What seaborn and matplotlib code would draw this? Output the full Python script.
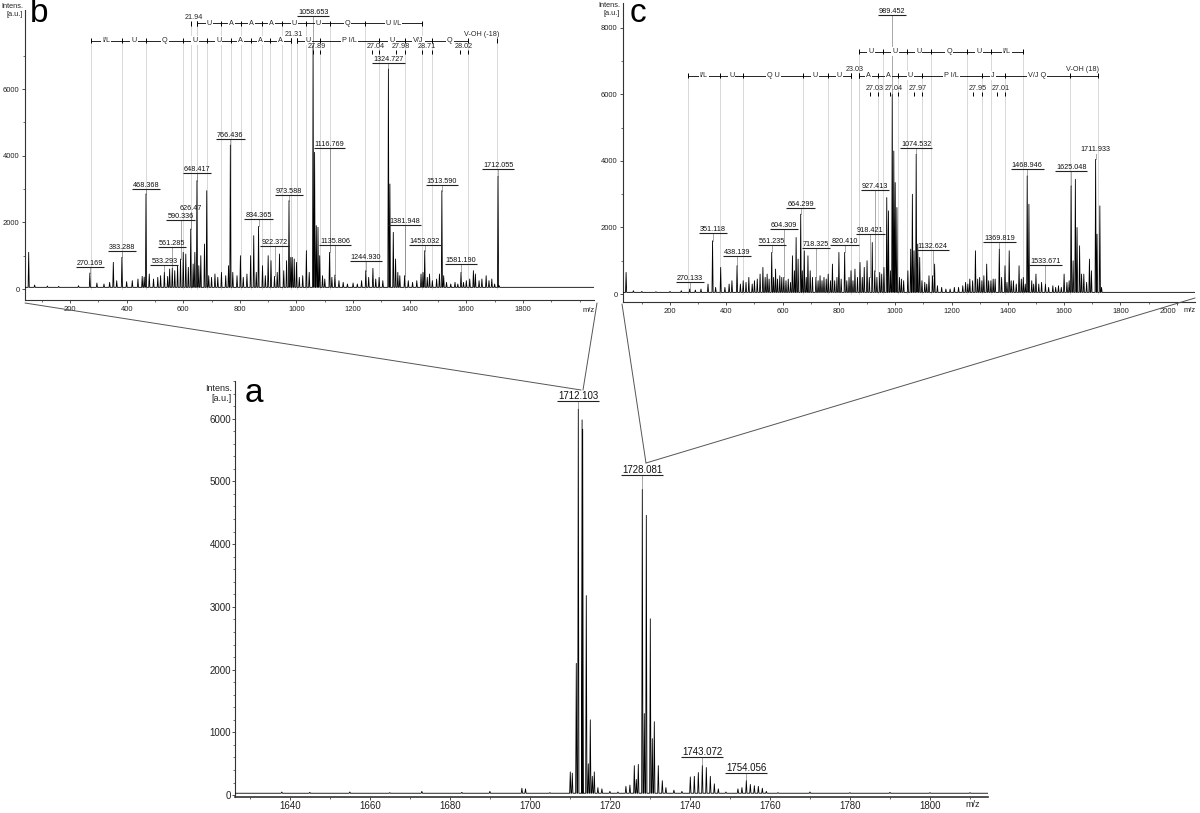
import numpy as np
import pandas as pd
import matplotlib
matplotlib.use("Agg")
import matplotlib.pyplot as plt
import seaborn as sns
from matplotlib.lines import Line2D
from matplotlib.ticker import MultipleLocator, FixedLocator

sns.set_theme(style="white")
plt.rcParams['font.family'] = ['Liberation Sans', 'DejaVu Sans']

# ---------------- data: panel a (full MS) ----------------
a_mz = [1630, 1638, 1645, 1655, 1665, 1673, 1683, 1690, 1698.0, 1698.9, 1705,
        1710.1, 1710.6, 1711.6, 1712.1, 1713.05, 1713.2, 1714.1, 1714.6, 1715.1, 1715.6, 1716.1, 1717.0, 1718.0, 1720.0, 1722.0,
        1724.0, 1725.0, 1726.1, 1726.6, 1727.1, 1728.1, 1728.6, 1729.1, 1730.1, 1730.6, 1731.1, 1732.1, 1733.1, 1734.0, 1736.0, 1738.0,
        1740.1, 1741.1, 1742.1, 1743.1, 1744.1, 1745.1, 1746.1, 1747.1, 1749.0,
        1752.0, 1753.0, 1754.1, 1755.1, 1756.1, 1757.1, 1758.1, 1759.1, 1762, 1770, 1780, 1790, 1800, 1810]
a_int = [30, 50, 45, 50, 40, 60, 45, 60, 110, 100, 40,
         370, 350, 2100, 6150, 5980, 5830, 3180, 500, 1200, 300, 370, 120, 100, 60, 50,
         140, 160, 470, 250, 490, 4870, 1300, 4460, 2810, 900, 1170, 470, 230, 120, 80, 60,
         290, 300, 360, 470, 440, 300, 180, 100, 50,
         100, 120, 230, 170, 150, 140, 110, 60, 40, 50, 40, 45, 40, 40]
a_label_text = ["1712.103", "1728.081", "1743.072", "1754.056"]
a_label_mz = [1712.103, 1728.081, 1743.072, 1754.056]
a_label_level = [6280, 5100, 600, 360]

# ---------------- data: panel b (MS/MS of 1712) ----------------
b_mz = [54, 75, 120, 160, 230, 270.169, 295, 320, 340, 353, 365, 383.288, 400, 420, 440, 455, 462, 468.368, 480, 495,
        510, 520, 533.293, 545, 552, 561.285, 570, 580, 590.336, 600, 609, 618, 626.47, 635, 641, 648.417, 655, 662,
        675, 683, 690, 700, 712, 722, 735, 750, 760, 766.436, 775, 790, 802, 812, 825, 838, 849, 858, 866, 880, 890,
        900, 910, 922.372, 932, 940, 955, 965, 973.588, 980, 985, 992, 1000, 1010, 1022, 1035, 1045, 1058.653, 1064,
        1070, 1076, 1082, 1092, 1100, 1116.769, 1125, 1135.806, 1150, 1165, 1180, 1200, 1215, 1230, 1244.930, 1255,
        1270, 1280, 1292, 1305, 1324.727, 1330, 1342, 1350, 1358, 1365, 1381.948, 1395, 1410, 1425, 1440, 1447,
        1453.032, 1462, 1470, 1480, 1495, 1505, 1513.590, 1520, 1530, 1545, 1560, 1570, 1581.190, 1590, 1600, 1612,
        1625, 1632, 1645, 1655, 1670, 1680, 1690, 1700, 1712.055, 1716]
b_int = [1100, 120, 90, 80, 100, 480, 180, 150, 200, 800, 250, 950, 220, 250, 300, 380, 360, 2850, 450, 300,
         350, 400, 500, 380, 600, 620, 550, 700, 900, 1100, 1050, 650, 1800, 750, 1100, 3250, 700, 1000,
         1350, 2950, 400, 350, 450, 350, 500, 400, 700, 4320, 500, 400, 1000, 350, 450, 1000, 1600, 500, 1880, 700, 400,
         1000, 850, 380, 500, 1050, 550, 850, 2650, 950, 950, 900, 800, 350, 400, 1150, 500, 7300, 4100,
         1900, 1850, 1000, 400, 300, 1100, 350, 420, 250, 200, 150, 180, 150, 250, 550, 350,
         620, 300, 350, 250, 6600, 3150, 1700, 900, 500, 400, 400, 250, 200, 250, 450, 500,
         1150, 350, 450, 250, 300, 450, 2950, 400, 200, 150, 200, 150, 500, 200, 250, 300,
         550, 450, 250, 300, 400, 250, 300, 150, 3380, 100]
b_label_text = ["270.169", "383.288", "468.368", "533.293", "561.285", "590.336", "626.47", "648.417", "766.436",
                "834.365", "922.372", "973.588", "1058.653", "1116.769", "1135.806", "1244.930", "1324.727",
                "1381.948", "1453.032", "1513.590", "1581.190", "1712.055"]
b_label_mz = [270.169, 383.288, 468.368, 533.293, 561.285, 590.336, 626.47, 648.417, 766.436,
              866.0, 922.372, 973.588, 1058.653, 1116.769, 1135.806, 1244.930, 1324.727,
              1381.948, 1453.032, 1513.590, 1581.190, 1712.055]
b_label_level = [660, 1130, 3000, 730, 1260, 2080, 2300, 3480, 4510,
                 2100, 1300, 2830, 8200, 4230, 1330, 850, 6770,
                 1910, 1330, 3130, 760, 3600]
b_label_ul = [True] * 6 + [False] + [True] * 15

b_low1_bounds = [273.1, 382.7, 469.3, 599.2, 683.1, 768.3, 838.7, 906.4, 980.8]
b_low1_names = ["I/L", "U", "Q", "U", "U", "A", "A", "A"]
b_low2_bounds = [1001.1, 1083.6, 1292.0, 1382.7, 1477.4, 1606.0]
b_low2_names = ["U", "P I/L", "U", "V/J", "Q"]
b_up_bounds = [649.3, 734.5, 804.9, 876.6, 949.7, 1034.9, 1118.8, 1242.0, 1444.9]
b_up_names = ["U", "A", "A", "A", "U", "U", "Q", "U I/L"]
b_gap_text = ["21.94", "21.31"]
b_gap_lo = [629.0, 980.8]
b_gap_hi = [649.3, 1001.1]
b_small_text = ["27.89", "27.04", "27.98", "28.71", "28.02"]
b_small_lo = [1059.3, 1267.7, 1351.6, 1444.9, 1578.9]
b_small_hi = [1083.6, 1292.0, 1382.7, 1477.4, 1606.0]
b_end_text = "V-OH (-18)"
b_end_mz = 1708.8

# ---------------- data: panel c (MS/MS of 1728) ----------------
c_mz = [44, 70, 100, 150, 200, 240, 270.133, 290, 310, 335, 351.118, 362, 380, 395, 410, 420, 438.139, 450, 460, 470,
        480, 492, 500, 510, 520, 530, 538, 545, 552, 561.235, 568, 575, 582, 590, 597, 604.309, 612, 620, 628, 635,
        642, 648, 655, 664.299, 670, 677, 684, 690, 698, 706, 718.325, 726, 733, 740, 747, 755, 762, 770, 777, 785,
        793, 800, 808, 820.410, 828, 836, 843, 850, 857, 866, 875, 883, 890, 900, 908, 918.421, 927.413, 935, 945,
        952, 960, 970, 976, 983, 989.452, 995, 1000, 1006, 1015, 1022, 1030, 1045, 1055, 1061, 1067, 1074.532, 1080,
        1087, 1095, 1105, 1112, 1120, 1132.624, 1140, 1150, 1165, 1180, 1195, 1210, 1225, 1240, 1250, 1258, 1265,
        1275, 1285, 1293, 1300, 1308, 1315, 1325, 1332, 1340, 1348, 1355, 1369.819, 1378, 1390, 1397, 1405, 1412,
        1420, 1430, 1440, 1448, 1455, 1462, 1468.946, 1475, 1485, 1492, 1500, 1510, 1520, 1533.671, 1545, 1560,
        1570, 1580, 1590, 1600, 1610, 1618, 1625.048, 1632, 1640, 1646, 1655, 1662, 1670, 1680, 1690, 1697,
        1711.933, 1717, 1727, 1733]
c_int = [650, 100, 80, 70, 80, 100, 150, 120, 150, 300, 1600, 200, 800, 200, 300, 400, 850, 300, 400, 350,
         500, 300, 400, 450, 600, 800, 500, 600, 450, 1250, 500, 750, 450, 550, 500, 500, 400, 450, 350, 1150,
         700, 1700, 1050, 2400, 700, 1300, 500, 1150, 700, 500, 500, 400, 550, 400, 500, 450, 600, 400, 900, 400,
         500, 1250, 450, 1250, 400, 500, 700, 400, 750, 500, 950, 500, 800, 1000, 500, 1550, 700, 500, 650,
         600, 800, 2900, 2500, 700, 6000, 4300, 3350, 2600, 500, 450, 400, 700, 1350, 3000, 1300, 4200, 1500,
         1100, 400, 350, 300, 550, 550, 900, 250, 200, 150, 150, 200, 200, 250, 350, 300, 450,
         400, 1300, 450, 500, 400, 550, 900, 400, 400, 450, 450, 1350, 500, 850, 350, 1300, 400,
         400, 300, 850, 450, 500, 300, 3550, 2700, 400, 300, 600, 300, 350, 300, 200, 250,
         200, 250, 200, 600, 350, 400, 3250, 1000, 3450, 2000, 1450, 600, 600, 350, 1050, 700,
         4050, 1800, 2650, 200]
c_label_text = ["270.133", "351.118", "438.139", "561.235", "604.309", "664.299", "718.325", "820.410", "918.421",
                "927.413", "989.452", "1074.532", "1132.624", "1369.819", "1468.946", "1533.671", "1625.048", "1711.933"]
c_label_mz = [270.133, 351.118, 438.139, 561.235, 604.309, 664.299, 718.325, 820.410, 912.0,
              927.413, 989.452, 1074.532, 1132.624, 1369.819, 1468.946, 1533.671, 1625.048, 1711.933]
c_label_level = [350, 1830, 1150, 1470, 1950, 2590, 1380, 1480, 1790,
                 3130, 8390, 4390, 1330, 1570, 3770, 880, 3700, 4250]
c_label_ul = [True] * 17 + [False]

c_low1_bounds = [263.9, 376.6, 460.8, 671.4, 759.7, 843.9]
c_low1_names = ["I/L", "U", "Q U", "U", "U"]
c_low2_bounds = [871.1, 939.0, 1011.0, 1095.2, 1307.2, 1388.7, 1619.6]
c_low2_names = ["A", "A", "U", "P I/L", "J", "V/J Q"]
c_up_bounds = [871.1, 956.7, 1040.9, 1126.5, 1255.6, 1339.8, 1452.5]
c_up_names = ["U", "U", "U", "Q", "U", "I/L"]
c_gap_text = ["23.03"]
c_gap_lo = [843.9]
c_gap_hi = [871.1]
c_small_text = ["27.03", "27.04", "27.97", "27.95", "27.01"]
c_small_lo = [911.9, 979.8, 1068.1, 1275.9, 1361.5]
c_small_hi = [939.0, 1011.0, 1095.2, 1307.2, 1388.7]
c_end_text = "V-OH (18)"
c_end_mz = 1720.2

# ---------------- layout helpers ----------------
W, H = 1200, 813
fig = plt.figure(figsize=(W / 100, H / 100), dpi=100)
fig.patch.set_facecolor('white')


def px_axes(left, top, right, bottom):
    return fig.add_axes([left / W, 1 - bottom / H, (right - left) / W, (bottom - top) / H])


def profile(mz, inten, base, hw, x0, x1):
    order = np.argsort(mz)
    xs, ys = [x0], [base]
    for i in order:
        m, h = mz[i], inten[i]
        xs += [m - hw, m, m + hw]
        ys += [base, max(h, base), base]
    xs.append(x1)
    ys.append(base)
    return pd.DataFrame({"mz": xs, "intensity": ys})


def style_axes(ax, fs, length=2.5, pad=1.5):
    for s in ["top", "right"]:
        ax.spines[s].set_visible(False)
    for s in ["left", "bottom"]:
        ax.spines[s].set_color("#333333")
        ax.spines[s].set_linewidth(0.8)
    ax.tick_params(which="major", direction="out", length=length, width=0.6, color="#333333",
                   labelsize=fs, labelcolor="#222222", pad=pad, left=True, bottom=True)
    ax.tick_params(which="minor", direction="out", length=1.5, width=0.5, color="#333333",
                   left=True, bottom=True)
    ax.set_xlabel("")
    ax.set_ylabel("")
    ax.set_facecolor("white")
    ax.grid(False)


def draw_spectrum(ax, mz, inten, base, hw, xlim):
    df = profile(mz, inten, base, hw, xlim[0], xlim[1])
    sns.lineplot(data=df, x="mz", y="intensity", ax=ax, color="black", lw=0.6,
                 sort=False, estimator=None, errorbar=None, zorder=3)


def peak_height(mz, inten, m):
    arr = np.asarray(mz)
    i = int(np.argmin(np.abs(arr - m)))
    return inten[i]


def peak_labels(ax, texts, mzs, levels, uls, mz, inten, fs):
    out = []
    for t, m, lv, ul in zip(texts, mzs, levels, uls):
        tx = ax.text(m, lv, t, ha="center", va="bottom", fontsize=fs, color="#111111", zorder=6)
        out.append((tx, m, lv, ul))
        h = peak_height(mz, inten, m)
        if lv > h:
            ax.vlines(m, h, lv, colors="#333333", linestyles=(0, (1.2, 1.2)), lw=0.6, zorder=4)
    return out


def underline(ax, items):
    fig.canvas.draw()
    r = fig.canvas.get_renderer()
    inv = ax.transData.inverted()
    for tx, m, lv, ul in items:
        if not ul:
            continue
        bb = tx.get_window_extent(renderer=r)
        (x0, _), (x1, _) = inv.transform([(bb.x0 - 1, bb.y0), (bb.x1 + 1, bb.y0)])
        ax.hlines(lv, x0, x1, colors="#222222", lw=0.8, zorder=6)


def draw_row(ax, bounds, names, level, tick_h, fs):
    ax.vlines(bounds, 0, level, colors="#d2d2d2", lw=0.6, zorder=1)
    ax.hlines(level, bounds[0], bounds[-1], colors="black", lw=0.6, zorder=5)
    ax.vlines(bounds, level - tick_h, level + tick_h, colors="black", lw=0.7, zorder=5)
    for i, n in enumerate(names):
        xm = (bounds[i] + bounds[i + 1]) / 2
        ax.text(xm, level, n, ha="center", va="center", fontsize=fs, zorder=6,
                bbox=dict(fc="white", ec="none", pad=0.8))


def draw_gap(ax, texts, los, his, level, tick_h, text_off, fs):
    for t, lo, hi in zip(texts, los, his):
        ax.vlines([lo, hi], 0, level, colors="#d2d2d2", lw=0.6, zorder=1)
        ax.vlines([lo, hi], level - tick_h, level + tick_h, colors="black", lw=0.7, zorder=5)
        ax.text((lo + hi) / 2, level + text_off, t, ha="center", va="center", fontsize=fs, zorder=6)


def draw_small(ax, texts, los, his, text_level, tick_lo, tick_hi, fs):
    for t, lo, hi in zip(texts, los, his):
        ax.vlines([lo, hi], tick_lo, tick_hi, colors="black", lw=0.7, zorder=5)
        ax.text((lo + hi) / 2, text_level, t, ha="center", va="center", fontsize=fs, zorder=6)


# ---------------- panel b ----------------
b_xlim = (41, 2051)
ax_b = px_axes(25, 10, 594, 300)
draw_spectrum(ax_b, b_mz, b_int, 50, 2.0, b_xlim)
ax_b.set_xlim(*b_xlim)
ax_b.set_ylim(-330, 8370)
ax_b.xaxis.set_major_locator(FixedLocator(list(range(200, 1801, 200))))
ax_b.xaxis.set_minor_locator(FixedLocator(list(range(100, 2001, 100))))
ax_b.yaxis.set_major_locator(FixedLocator([0, 2000, 4000, 6000]))
ax_b.yaxis.set_minor_locator(FixedLocator([1000, 3000, 5000, 7000]))
style_axes(ax_b, 5.5)
fs_s = 5.2
draw_row(ax_b, b_low1_bounds, b_low1_names, 7450, 70, fs_s)
draw_row(ax_b, b_low2_bounds, b_low2_names, 7450, 70, fs_s)
draw_row(ax_b, b_up_bounds, b_up_names, 7970, 70, fs_s)
draw_gap(ax_b, b_gap_text[:1], b_gap_lo[:1], b_gap_hi[:1], 7970, 70, 170, fs_s)
draw_gap(ax_b, b_gap_text[1:], b_gap_lo[1:], b_gap_hi[1:], 7450, 70, 170, fs_s)
draw_small(ax_b, b_small_text, b_small_lo, b_small_hi, 7270, 7060, 7170, fs_s)
ax_b.vlines(b_end_mz, 0, 7450, colors="#d2d2d2", lw=0.6, zorder=1)
ax_b.vlines(b_end_mz, 7380, 7520, colors="black", lw=0.7, zorder=5)
ax_b.text(b_end_mz - 55, 7620, b_end_text, ha="center", va="center", fontsize=fs_s, zorder=6)
b_items = peak_labels(ax_b, b_label_text, b_label_mz, b_label_level, b_label_ul, b_mz, b_int, fs_s)

# ---------------- panel c ----------------
c_xlim = (33, 2065)
ax_c = px_axes(623, 3, 1195, 302)
draw_spectrum(ax_c, c_mz, c_int, 50, 2.0, c_xlim)
ax_c.set_xlim(*c_xlim)
ax_c.set_ylim(-240, 8750)
ax_c.xaxis.set_major_locator(FixedLocator(list(range(200, 2001, 200))))
ax_c.xaxis.set_minor_locator(FixedLocator(list(range(100, 2001, 100))))
ax_c.yaxis.set_major_locator(FixedLocator([0, 2000, 4000, 6000, 8000]))
ax_c.yaxis.set_minor_locator(FixedLocator([1000, 3000, 5000, 7000]))
style_axes(ax_c, 5.5)
draw_row(ax_c, c_low1_bounds, c_low1_names, 6565, 70, fs_s)
draw_row(ax_c, c_low2_bounds, c_low2_names, 6565, 70, fs_s)
draw_row(ax_c, c_up_bounds, c_up_names, 7287, 70, fs_s)
draw_gap(ax_c, c_gap_text, c_gap_lo, c_gap_hi, 6565, 70, 175, fs_s)
draw_small(ax_c, c_small_text, c_small_lo, c_small_hi, 6165, 5960, 6070, fs_s)
ax_c.hlines(6565, c_low2_bounds[-1], c_end_mz, colors="black", lw=0.6, zorder=5)
ax_c.vlines(c_end_mz, 0, 6565, colors="#d2d2d2", lw=0.6, zorder=1)
ax_c.vlines(c_end_mz, 6495, 6635, colors="black", lw=0.7, zorder=5)
ax_c.text(c_end_mz - 55, 6740, c_end_text, ha="center", va="center", fontsize=fs_s, zorder=6)
c_items = peak_labels(ax_c, c_label_text, c_label_mz, c_label_level, c_label_ul, c_mz, c_int, fs_s)
fig.canvas.draw()
ax_c.get_xticklabels()[-1].set_horizontalalignment("right")

# ---------------- panel a ----------------
a_xlim = (1626.3, 1814.5)
ax_a = px_axes(235, 381, 988, 797)
draw_spectrum(ax_a, a_mz, a_int, 30, 0.16, a_xlim)
ax_a.set_xlim(*a_xlim)
ax_a.set_ylim(-30, 6600)
ax_a.xaxis.set_major_locator(FixedLocator(list(range(1640, 1801, 20))))
ax_a.xaxis.set_minor_locator(MultipleLocator(10))
ax_a.yaxis.set_major_locator(MultipleLocator(1000))
ax_a.yaxis.set_minor_locator(MultipleLocator(200))
style_axes(ax_a, 7, length=2, pad=0.8)
ax_a.spines["bottom"].set_linewidth(1.2)
a_items = peak_labels(ax_a, a_label_text, a_label_mz, a_label_level, [True] * 4, a_mz, a_int, 7)

underline(ax_b, b_items)
underline(ax_c, c_items)
underline(ax_a, a_items)

# ---------------- figure-level texts & zoom lines ----------------
def ftext(x, y, s, **kw):
    fig.text(x / W, 1 - y / H, s, **kw)

ftext(23, 3, "Intens.\n[a.u.]", ha="right", va="top", fontsize=5.3, linespacing=1.15, color="#222222")
ftext(620, 2, "Intens.\n[a.u.]", ha="right", va="top", fontsize=5.3, linespacing=1.15, color="#222222")
ftext(232, 384, "Intens.\n[a.u.]", ha="right", va="top", fontsize=6.5, linespacing=1.15, color="#222222")
ftext(30, 14, "b", ha="left", va="center", fontsize=24, color="black")
ftext(630, 14, "c", ha="left", va="center", fontsize=24, color="black")
ftext(245, 393, "a", ha="left", va="center", fontsize=24, color="black")
ftext(589, 310, "m/z", ha="center", va="center", fontsize=5.5, color="#222222")
ftext(1190, 310, "m/z", ha="center", va="center", fontsize=5.5, color="#222222")
ftext(973, 804, "m/z", ha="center", va="center", fontsize=6.5, color="#222222")

for (x1, y1, x2, y2) in [(25, 303, 581, 390), (597, 303, 583, 390),
                         (622, 304, 646, 463), (1195, 298, 646, 463)]:
    fig.add_artist(Line2D([x1 / W, x2 / W], [1 - y1 / H, 1 - y2 / H], transform=fig.transFigure,
                          color="#555555", lw=0.7))

fig.savefig("out.png", dpi=100, facecolor="white")
